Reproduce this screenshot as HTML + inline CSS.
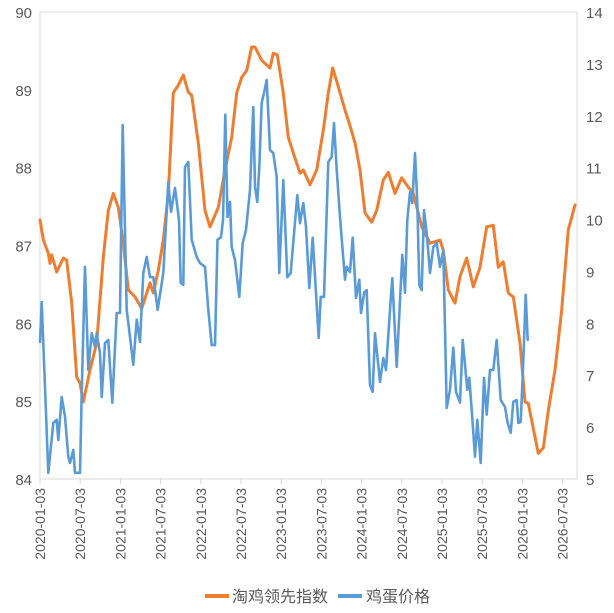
<!DOCTYPE html>
<html><head><meta charset="utf-8"><style>
body{margin:0;background:#fff;}
svg text{font-family:"Liberation Sans","Noto Sans CJK SC",sans-serif;fill:#595959;}
</style></head><body>
<svg id="chart" width="614" height="608" viewBox="0 0 614 608" xmlns="http://www.w3.org/2000/svg">
<rect x="40" y="12" width="537" height="467" fill="none" stroke="#d9d9d9" stroke-width="1"/>
<g id="axes"></g>
<g id="series"></g>
<g>
<line x1="205" y1="596" x2="229" y2="596" stroke="#ED7D31" stroke-width="4"/>
<text x="232" y="602" font-size="16">淘鸡领先指数</text>
<line x1="338" y1="596" x2="362" y2="596" stroke="#5B9BD5" stroke-width="4"/>
<text x="366" y="602" font-size="16">鸡蛋价格</text>
</g>
</svg>
<script>
const tickLabels=["2020-01-03","2020-07-03","2021-01-03","2021-07-03","2022-01-03","2022-07-03","2023-01-03","2023-07-03","2024-01-03","2024-07-03","2025-01-03","2025-07-03","2026-01-03","2026-07-03"];
const leftTicks=[84,85,86,87,88,89,90];
const rightTicks=[5,6,7,8,9,10,11,12,13,14];
// months since 2020-01-03
const indexMonths=[0,0.5,1.24,1.49,1.75,2.49,3.48,3.99,4.73,5.48,5.97,6.46,7.46,8.46,9.45,10.19,10.94,11.69,12.43,13.18,14.18,15.18,16.42,16.91,17.66,18.4,19.15,19.9,20.64,21.39,22.13,22.64,23.63,24.63,25.37,26.61,27.61,28.61,29.36,30.1,30.85,31.6,32.09,33.09,33.58,34.33,34.82,35.42,36.31,37.06,37.81,38.81,39.3,40.3,41.3,42.28,43.03,43.69,44.52,45.52,46.01,47.01,47.76,48.51,49.51,50.25,51.24,51.99,52.99,53.99,54.97,55.72,56.97,58.21,59.7,60.19,60.94,61.94,62.69,63.69,64.67,65.67,66.67,67.66,68.4,69.15,69.9,70.64,71.64,72.39,72.88,74.37,75.12,75.87,76.87,77.87,78.85,79.85];
const indexValues=[87.33,87.07,86.9,86.77,86.88,86.66,86.84,86.81,86.26,85.31,85.23,84.99,85.4,85.75,86.85,87.45,87.67,87.49,87.03,86.43,86.34,86.19,86.52,86.39,86.68,87.07,87.67,88.96,89.06,89.19,88.97,88.93,88.32,87.45,87.24,87.49,87.97,88.39,88.96,89.16,89.25,89.55,89.55,89.38,89.34,89.28,89.47,89.45,88.96,88.39,88.19,87.93,87.97,87.78,87.97,88.48,88.96,89.28,89.04,88.74,88.61,88.32,87.97,87.42,87.3,87.45,87.84,87.94,87.67,87.87,87.75,87.67,87.24,87.03,87.07,86.94,86.43,86.26,86.6,86.84,86.47,86.72,87.24,87.26,86.72,86.79,86.39,86.34,85.75,84.99,84.97,84.33,84.4,84.88,85.4,86.17,87.2,87.52];
const eggMonths=[0,0.25,0.49,1.24,1.99,2.49,2.73,3.24,3.73,4.22,4.48,4.97,5.22,5.97,6.22,6.72,7.21,7.72,8.21,8.46,8.96,9.21,9.7,10.19,10.79,11.45,11.94,12.34,12.94,13.43,13.93,14.43,14.93,15.42,15.93,16.42,16.91,17.57,18.4,19.15,19.55,20.15,20.75,21.0,21.39,21.64,22.13,22.64,23.39,23.88,24.63,25.12,25.63,26.12,26.49,27.01,27.31,27.66,27.99,28.36,28.61,29.1,29.75,30.25,30.75,31.34,31.84,32.09,32.43,32.73,33.09,33.43,33.84,34.33,34.82,35.33,35.72,36.31,36.91,37.42,38.4,38.81,39.3,39.7,40.19,40.7,41.6,41.9,42.39,43.03,43.54,43.88,44.28,44.78,45.52,45.78,46.27,46.67,47.16,47.66,47.91,48.4,48.76,49.25,49.66,50.0,50.75,51.24,51.64,52.24,52.58,53.24,54.07,54.48,54.82,55.22,55.57,55.97,56.31,56.61,56.97,57.31,57.72,58.21,58.7,59.21,59.7,60.19,60.7,61.19,61.69,62.09,62.69,63.09,63.78,64.07,64.43,64.93,65.27,65.78,66.27,66.67,67.16,67.66,68.16,68.76,69.4,69.81,70.25,70.64,71.15,71.39,71.75,72.04,72.49,72.79];
const eggValues=[7.64,8.41,7.62,5.12,6.08,6.14,5.75,6.58,6.2,5.43,5.31,5.56,5.12,5.12,6.66,9.09,7.1,7.81,7.55,7.81,7.43,6.58,7.62,7.68,6.47,8.2,8.2,11.82,8.26,7.74,7.2,8.07,7.64,8.97,9.28,8.89,8.89,8.26,8.97,10.72,10.15,10.61,9.99,8.78,8.74,11.01,11.11,9.61,9.28,9.16,9.09,8.26,7.58,7.58,9.61,9.66,9.99,12.02,10.05,10.34,9.47,9.22,8.51,9.55,9.8,10.57,12.17,10.63,10.34,11.01,12.25,12.44,12.69,11.34,11.28,10.82,8.97,10.76,8.89,8.97,10.47,9.93,10.32,9.86,8.68,9.65,7.72,8.51,8.51,11.11,11.21,11.86,10.96,10.05,8.84,9.09,8.99,9.65,8.49,8.84,8.2,8.6,8.64,6.81,6.68,7.81,6.87,7.33,7.1,8.26,8.87,7.16,9.32,8.59,9.99,10.53,10.32,11.28,10.34,8.74,8.64,10.18,9.74,8.97,9.47,9.55,9.09,9.41,6.37,6.72,7.53,6.68,6.47,7.68,6.72,6.95,6.33,5.43,6.14,5.31,6.95,6.24,7.1,7.1,7.68,6.52,6.39,6.08,5.89,6.49,6.52,6.08,6.1,6.97,8.55,7.68];

const NS="http://www.w3.org/2000/svg";
const X0=40,PX_PER_MONTH=6.7,TOP=12,BOT=479;
function xScale(m){return X0+m*PX_PER_MONTH;}
function yLeft(v){return BOT-(v-84)/(90-84)*(BOT-TOP);}
function yRight(v){return BOT-(v-5)/(14-5)*(BOT-TOP);}
const axes=document.getElementById('axes');
const series=document.getElementById('series');
function mk(tag,attrs,parent){const e=document.createElementNS(NS,tag);for(const k in attrs)e.setAttribute(k,attrs[k]);parent.appendChild(e);return e;}

leftTicks.forEach(v=>{
  const t=mk('text',{x:32,y:yLeft(v)+6,'text-anchor':'end','font-size':15},axes);
  
  
  t.textContent=v;
});
rightTicks.forEach(v=>{
  const t=mk('text',{x:586,y:yRight(v)+6,'font-size':15},axes);
  
  
  t.textContent=v;
});
tickLabels.forEach((lab,i)=>{
  const x=xScale(i*6);
  const l=mk('line',{x1:x,y1:BOT,x2:x,y2:BOT+5,stroke:'#d9d9d9'},axes);
  
  
  const t=mk('text',{x:0,y:0,'text-anchor':'end','font-size':14,transform:`translate(${x+5},${BOT+9}) rotate(-90)`},axes);
  
  
  t.textContent=lab;
});
function line(ms,vs,ys,color,w,name){
  const d=ms.map((m,i)=>(i?'L':'M')+xScale(m).toFixed(1)+','+ys(vs[i]).toFixed(1)).join('');
  const p=mk('path',{d:d,fill:'none',stroke:color,'stroke-width':w,'stroke-linejoin':'round','stroke-linecap':'round'},series);
  
  
}
line(indexMonths,indexValues,yLeft,'#ED7D31',3,'index-line');
line(eggMonths,eggValues,yRight,'#5B9BD5',2.6,'egg-price-line');
</script>
</body></html>
